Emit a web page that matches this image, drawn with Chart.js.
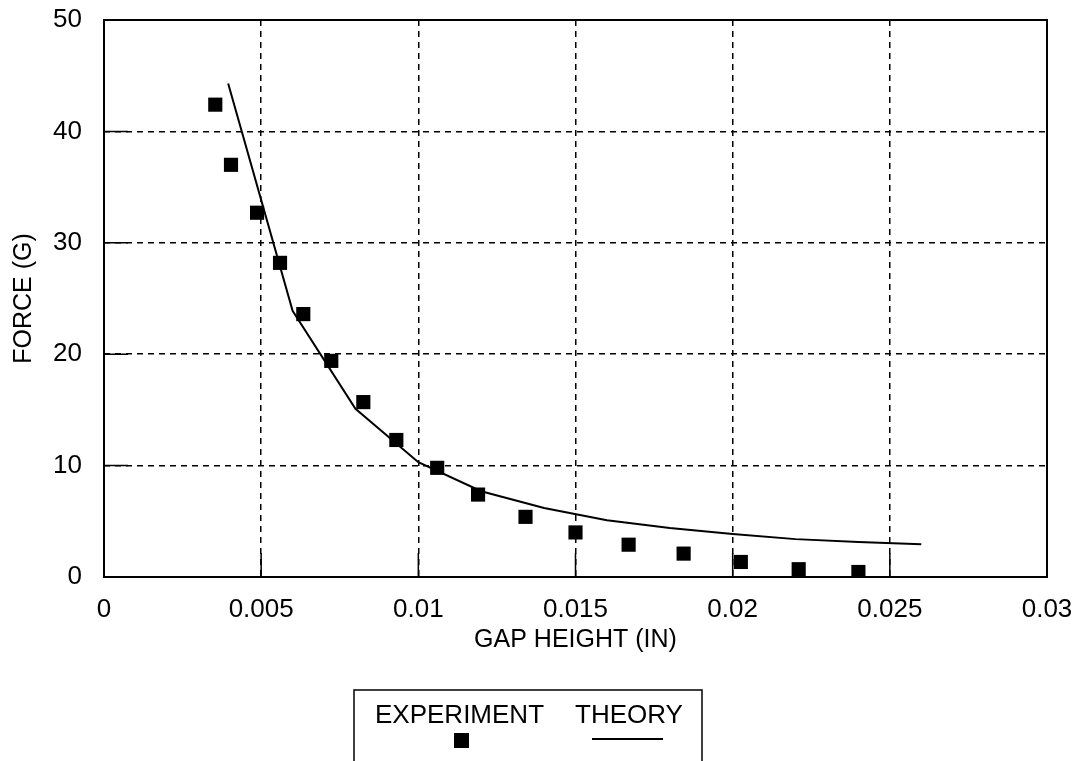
<!DOCTYPE html>
<html>
<head>
<meta charset="utf-8">
<script src="https://cdn.jsdelivr.net/npm/chart.js@4/dist/chart.umd.min.js"></script>
<style>
html,body{margin:0;padding:0;background:#fff;}
#wrap{width:1083px;height:761px;position:relative;}
</style>
</head>
<body>
<div id="wrap"><canvas id="c" width="1083" height="761"></canvas></div>
<script>
// ---- data ----
const expGap   = [0.00354, 0.00404, 0.00487, 0.0056, 0.00634, 0.00723, 0.00825, 0.0093, 0.0106, 0.0119, 0.01341, 0.0150, 0.01669, 0.01844, 0.02026, 0.0221, 0.0240];
const expForce = [42.4, 37.0, 32.7, 28.2, 23.6, 19.4, 15.7, 12.3, 9.8, 7.4, 5.4, 4.0, 2.9, 2.1, 1.35, 0.7, 0.45];
const thGap    = [0.00395, 0.006, 0.008, 0.010, 0.012, 0.014, 0.016, 0.018, 0.020, 0.022, 0.024, 0.026];
const thForce  = [44.3, 23.9, 15.1, 10.3, 7.7, 6.2, 5.1, 4.4, 3.85, 3.4, 3.15, 2.95];
const xTicks   = [0, 0.005, 0.01, 0.015, 0.02, 0.025, 0.03];
const yTicks   = [0, 10, 20, 30, 40, 50];
const seriesNames = ['EXPERIMENT', 'THEORY'];
const xTitle = 'GAP HEIGHT (IN)';
const yTitle = 'FORCE (G)';

const FONT = '"Liberation Sans", Arial, Helvetica, sans-serif';

const framePlugin = {
  id: 'frame',
  afterDatasetsDraw(chart) {
    const {ctx, chartArea: a, scales} = chart;
    ctx.save();
    ctx.strokeStyle = '#000';
    ctx.lineWidth = 2;
    ctx.setLineDash([]);
    ctx.strokeRect(a.left, a.top, a.right - a.left, a.bottom - a.top);
    ctx.lineWidth = 1.5;
    ctx.beginPath();
    xTicks.forEach(v => {
      const px = scales.x.getPixelForValue(v);
      ctx.moveTo(px, a.bottom); ctx.lineTo(px, a.bottom - 24);
    });
    yTicks.forEach(v => {
      const py = scales.y.getPixelForValue(v);
      ctx.moveTo(a.left, py); ctx.lineTo(a.left + 24, py);
    });
    ctx.stroke();
    ctx.restore();
  }
};

const legendPlugin = {
  id: 'boxLegend',
  afterDraw(chart) {
    const ctx = chart.ctx;
    const ds = chart.data.datasets;
    ctx.save();
    ctx.strokeStyle = '#000';
    ctx.lineWidth = 1.5;
    ctx.strokeRect(354, 690, 348, 90);
    ctx.fillStyle = '#000';
    ctx.font = '26px ' + FONT;
    ctx.textBaseline = 'middle';
    ctx.textAlign = 'left';
    ctx.fillText(ds[0].label, 375, 716);
    ctx.fillText(ds[1].label, 575, 716);
    ctx.fillStyle = ds[0].backgroundColor;
    ctx.fillRect(454, 733, 15, 15);
    ctx.strokeStyle = ds[1].borderColor;
    ctx.lineWidth = ds[1].borderWidth;
    ctx.beginPath();
    ctx.moveTo(592, 739); ctx.lineTo(663, 739);
    ctx.stroke();
    ctx.restore();
  }
};

new Chart(document.getElementById('c'), {
  type: 'scatter',
  data: {
    datasets: [
      {
        label: seriesNames[0],
        data: expGap.map((x, i) => ({x, y: expForce[i]})),
        pointStyle: 'rect',
        pointRadius: 10,
        pointBorderWidth: 0,
        backgroundColor: '#000',
        borderColor: '#000',
        showLine: false
      },
      {
        label: seriesNames[1],
        data: thGap.map((x, i) => ({x, y: thForce[i]})),
        showLine: true,
        pointRadius: 0,
        borderColor: '#000',
        backgroundColor: '#000',
        borderWidth: 2,
        tension: 0
      }
    ]
  },
  options: {
    responsive: false,
    animation: false,
    layout: {padding: {left: 0, right: 36, top: 20, bottom: 106}},
    plugins: {legend: {display: false}, tooltip: {enabled: false}},
    scales: {
      x: {
        type: 'linear', min: 0, max: 0.03,
        afterBuildTicks(s) { s.ticks = xTicks.map(v => ({value: v})); },
        afterFit(s) { s.height = 78; s.paddingLeft = 0; s.paddingRight = 0; s.paddingTop = 0; s.paddingBottom = 0; },
        grid: {color: '#000', lineWidth: 1.5, drawTicks: false},
        border: {display: false, dash: [6, 5]},
        ticks: {color: '#000', font: {family: FONT, size: 26}, padding: 17, maxRotation: 0,
                callback: v => String(v)},
        title: {display: true, text: xTitle, color: '#000', font: {family: FONT, size: 25}, padding: {top: 0, bottom: 0}}
      },
      y: {
        type: 'linear', min: 0, max: 50,
        afterBuildTicks(s) { s.ticks = yTicks.map(v => ({value: v})); },
        afterFit(s) { s.width = 104; s.paddingLeft = 0; s.paddingRight = 0; s.paddingTop = 0; s.paddingBottom = 0; },
        grid: {color: '#000', lineWidth: 1.5, drawTicks: false},
        border: {display: false, dash: [6, 5]},
        ticks: {color: '#000', font: {family: FONT, size: 26}, padding: 22},
        title: {display: true, text: yTitle, color: '#000', font: {family: FONT, size: 25}, padding: {top: 9, bottom: 0}}
      }
    }
  },
  plugins: [framePlugin, legendPlugin]
});
</script>
</body>
</html>
